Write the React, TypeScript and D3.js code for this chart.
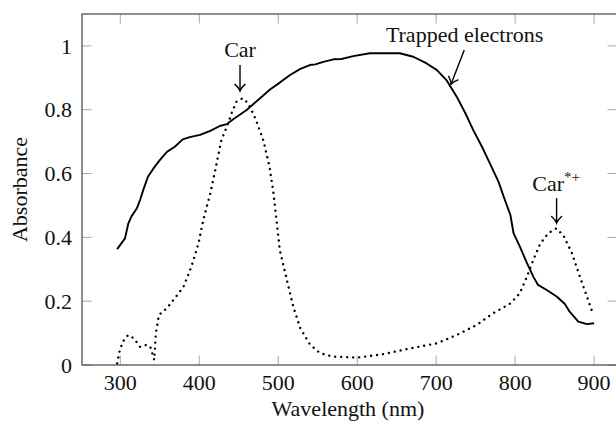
import * as d3 from 'd3';
import React, { ReactElement } from 'react';

const WIDTH = 616;
const HEIGHT = 425;
const FONT = "'Liberation Serif', 'Times New Roman'";

// trapped electrons (solid)
const trappedWl = [
  296, 306, 310, 314, 321, 325, 329, 335, 342, 350, 359, 369, 379, 388, 401, 414, 426, 435, 443, 460,
  477, 490, 502, 515, 528, 540, 547, 557, 570, 580, 595, 616, 654, 671, 688, 701, 713, 726, 737, 747,
  758, 768, 779, 787, 794, 798, 806, 815, 823, 829, 840, 853, 863, 869, 880, 891, 900,
];
const trappedAbs = [
  0.363, 0.397, 0.442, 0.465, 0.491, 0.517, 0.548, 0.59, 0.616, 0.642, 0.668, 0.684, 0.707, 0.714,
  0.721, 0.734, 0.749, 0.755, 0.77, 0.799, 0.836, 0.864, 0.885, 0.909, 0.928, 0.94, 0.942, 0.95, 0.958,
  0.959, 0.968, 0.977, 0.977, 0.966, 0.945, 0.924, 0.893, 0.841, 0.789, 0.736, 0.684, 0.632, 0.574,
  0.517, 0.47, 0.413, 0.371, 0.319, 0.277, 0.251, 0.235, 0.214, 0.191, 0.167, 0.136, 0.128, 0.131,
];

// carotenoid (dotted)
const carWl = [
  296, 299, 303, 310, 317, 325, 333, 338, 343, 345, 349, 359, 369, 380, 390, 399, 405, 414, 422, 428,
  435, 441, 447, 455, 462, 471, 481, 489, 494, 502, 511, 519, 528, 540, 553, 570, 600, 633, 667, 701,
  726, 751, 772, 794, 806, 815, 823, 832, 842, 852, 861, 872, 882, 891, 899,
];
const carAbs = [
  0.005, 0.042, 0.073, 0.094, 0.084, 0.057, 0.063, 0.057, 0.016, 0.099, 0.157, 0.178, 0.209, 0.245,
  0.308, 0.381, 0.454, 0.538, 0.632, 0.705, 0.747, 0.789, 0.825, 0.836, 0.82, 0.773, 0.705, 0.621,
  0.538, 0.36, 0.266, 0.183, 0.115, 0.065, 0.037, 0.026, 0.023, 0.034, 0.052, 0.068, 0.094, 0.125,
  0.162, 0.193, 0.225, 0.277, 0.329, 0.381, 0.413, 0.428, 0.407, 0.35, 0.277, 0.214, 0.157,
];

const xTicks = [300, 400, 500, 600, 700, 800, 900];
const yTicks = [0, 0.2, 0.4, 0.6, 0.8, 1];
const yTickLabels = ['0', '0.2', '0.4', '0.6', '0.8', '1'];

// annotations: label position and arrow (from -> to), in data units
const notes = [
  { text: 'Car', sup: '', tx: 451.6, ty: 0.965, x1: 451.6, y1: 0.94, x2: 451.6, y2: 0.859 },
  { text: 'Trapped electrons', sup: '', tx: 736, ty: 1.013, x1: 735.6, y1: 0.987, x2: 718.8, y2: 0.88 },
  { text: 'Car', sup: '*+', tx: 852, ty: 0.546, x1: 852.5, y1: 0.523, x2: 852.5, y2: 0.445 },
];

const App = (): ReactElement => {
  const left = 82;
  const right = 617;
  const top = 14;
  const bottom = 365;

  const x = d3.scaleLinear().domain([251.5, 929]).range([left, right]);
  const y = d3.scaleLinear().domain([0, 1.1]).range([bottom, top]);

  const line = d3
    .line<[number, number]>()
    .x((d) => x(d[0]))
    .y((d) => y(d[1]));

  const trapped = trappedWl.map((w, i) => [w, trappedAbs[i]] as [number, number]);
  const car = carWl.map((w, i) => [w, carAbs[i]] as [number, number]);

  const tickLen = 9.5;
  const tickColor = '#a8a8a8';
  const txt = { fontFamily: FONT, fontSize: '22px', fill: '#111' };

  return (
    <div style={{ position: 'absolute', left: 0, top: 0, width: WIDTH, height: HEIGHT, overflow: 'hidden' }}>
      <svg width={WIDTH} height={HEIGHT} style={{ display: 'block', background: '#fff' }}>
        <defs>
          <marker
            id="arr"
            markerUnits="userSpaceOnUse"
            markerWidth="14"
            markerHeight="14"
            refX="0"
            refY="0"
            viewBox="-8 -7 10 14"
            orient="auto"
          >
            <path d="M-6.5,-5 Q-3,-1 0,0 Q-3,1 -6.5,5" fill="none" stroke="#000" strokeWidth="1.4" strokeLinecap="round" />
          </marker>
        </defs>

        {/* ticks on all four sides, pointing inward */}
        {xTicks.map((t) => (
          <g key={`xt${t}`} stroke={tickColor} strokeWidth={1}>
            <line x1={x(t)} x2={x(t)} y1={bottom} y2={bottom - tickLen} />
            <line x1={x(t)} x2={x(t)} y1={top} y2={top + tickLen} />
          </g>
        ))}
        {yTicks.map((t) => (
          <g key={`yt${t}`} stroke={tickColor} strokeWidth={1}>
            <line x1={left} x2={left + tickLen} y1={y(t)} y2={y(t)} />
            <line x1={right} x2={right - tickLen} y1={y(t)} y2={y(t)} />
          </g>
        ))}

        <rect x={left} y={top} width={right - left} height={bottom - top} fill="none" stroke="#444" strokeWidth={1.2} />

        {xTicks.map((t) => (
          <text key={`xl${t}`} x={x(t)} y={390} textAnchor="middle" style={txt}>
            {t}
          </text>
        ))}
        {yTicks.map((t, i) => (
          <text key={`yl${t}`} x={72} y={y(t)} dy="0.35em" textAnchor="end" style={txt}>
            {yTickLabels[i]}
          </text>
        ))}

        <text x={348} y={415.5} textAnchor="middle" style={txt}>
          Wavelength (nm)
        </text>
        <text transform={`translate(27, ${(top + bottom) / 2}) rotate(-90)`} textAnchor="middle" style={txt}>
          Absorbance
        </text>

        <path d={line(car) ?? ''} fill="none" stroke="#000" strokeWidth={2.4} strokeLinecap="round" strokeDasharray="0.01 6" />
        <path d={line(trapped) ?? ''} fill="none" stroke="#000" strokeWidth={1.9} strokeLinejoin="round" />

        {notes.map((n, i) => (
          <g key={`n${i}`}>
            <text x={x(n.tx)} y={y(n.ty)} textAnchor="middle" style={txt}>
              {n.text}
              {n.sup && (
                <tspan style={{ fontSize: '15px' }} dy={-9}>
                  {n.sup}
                </tspan>
              )}
            </text>
            <line
              x1={x(n.x1)}
              y1={y(n.y1)}
              x2={x(n.x2)}
              y2={y(n.y2)}
              stroke="#000"
              strokeWidth={1.4}
              markerEnd="url(#arr)"
            />
          </g>
        ))}
      </svg>
    </div>
  );
};

export default App;
